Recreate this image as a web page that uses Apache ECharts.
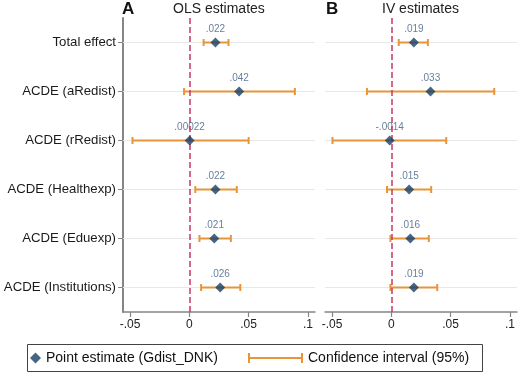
<!DOCTYPE html>
<html>
<head>
<meta charset="utf-8">
<script src="https://cdn.jsdelivr.net/npm/echarts@6/dist/echarts.min.js"></script>
<style>
  html, body { margin: 0; padding: 0; background: #fff; }
  #chart { width: 520px; height: 373px; }
</style>
</head>
<body>
<div id="chart"></div>
<script>
const categories = ["Total effect", "ACDE (aRedist)", "ACDE (rRedist)", "ACDE (Healthexp)", "ACDE (Eduexp)", "ACDE (Institutions)"];
const olsPoint = [0.022, 0.042, 0.00022, 0.022, 0.021, 0.026];
const olsLow = [0.012, -0.0045, -0.048, 0.005, 0.0085, 0.0099];
const olsHigh = [0.033, 0.089, 0.050, 0.040, 0.035, 0.043];
const olsLabels = [".022", ".042", ".00022", ".022", ".021", ".026"];
const ivPoint = [0.019, 0.033, -0.0014, 0.015, 0.016, 0.019];
const ivLow = [0.0062, -0.0206, -0.0497, -0.0037, -0.0008, -0.0008];
const ivHigh = [0.0308, 0.0868, 0.0463, 0.0336, 0.0316, 0.0387];
const ivLabels = [".019", ".033", "-.0014", ".015", ".016", ".019"];
const xTicks = [-0.05, 0, 0.05, 0.1];
const xTickLabels = ["-.05", "0", ".05", ".1"];

const navy = "#163f66";
const orange = "#e8953a";
const axisGray = "#858585";
const font = "Liberation Sans, Arial, sans-serif";
const pointName = "Point estimate (Gdist_DNK)";
const ciName = "Confidence interval (95%)";

const chart = echarts.init(document.getElementById("chart"), null, { renderer: "canvas" });
const tickText = v => { const i = xTicks.findIndex(t => Math.abs(t - v) < 1e-9); return i < 0 ? "" : xTickLabels[i]; };

function gridRow(params, api) {
  const cs = params.coordSys;
  const y = api.coord([0, api.value(0)])[1];
  return { type: "line", shape: { x1: cs.x, y1: y, x2: cs.x + cs.width, y2: y }, style: { stroke: "#e8e8e8", lineWidth: 1 } };
}

function ciBar(params, api) {
  const a = api.coord([api.value(0), api.value(2)]);
  const b = api.coord([api.value(1), api.value(2)]);
  const cap = 3.5;
  const st = { stroke: orange, lineWidth: 2 };
  return {
    type: "group",
    children: [
      { type: "line", shape: { x1: a[0], y1: a[1], x2: b[0], y2: b[1] }, style: st },
      { type: "line", shape: { x1: a[0], y1: a[1] - cap, x2: a[0], y2: a[1] + cap }, style: st },
      { type: "line", shape: { x1: b[0], y1: b[1] - cap, x2: b[0], y2: b[1] + cap }, style: st },
    ],
  };
}

function panelSeries(idx, point, low, high, labels) {
  return [
    {
      type: "custom",
      xAxisIndex: idx,
      yAxisIndex: idx,
      z: 1,
      silent: true,
      renderItem: gridRow,
      data: categories.map((_, i) => [i]),
      encode: { y: 0 },
      markLine: {
        silent: true,
        symbol: "none",
        label: { show: false },
        lineStyle: { color: "#c8375f", type: [6, 3], width: 1.5 },
        data: [{ xAxis: 0 }],
      },
    },
    {
      name: ciName,
      type: "custom",
      xAxisIndex: idx,
      yAxisIndex: idx,
      z: 3,
      itemStyle: { color: orange },
      renderItem: ciBar,
      data: categories.map((_, i) => [low[i], high[i], i]),
      encode: { x: [0, 1], y: 2 },
    },
    {
      name: pointName,
      type: "scatter",
      xAxisIndex: idx,
      yAxisIndex: idx,
      z: 10,
      symbol: "diamond",
      symbolSize: 10,
      itemStyle: { color: navy },
      label: {
        show: true,
        position: "top",
        distance: 3,
        fontFamily: font,
        fontSize: 10,
        color: "#3f5f82",
        formatter: p => labels[p.dataIndex],
      },
      data: categories.map((_, i) => [point[i], i]),
    },
  ];
}

function xAxisFor(idx) {
  return {
    type: "value",
    gridIndex: idx,
    min: -0.056,
    max: 0.106,
    axisLine: { show: true, onZero: false, lineStyle: { color: axisGray, width: 1.5 } },
    axisTick: { show: true, customValues: xTicks, length: 5, lineStyle: { color: axisGray, width: 1.2 } },
    axisLabel: { customValues: xTicks, formatter: tickText, fontFamily: font, fontSize: 12, color: "#222", margin: 7 },
    splitLine: { show: false },
  };
}

chart.setOption({
  animation: false,
  backgroundColor: "#fff",
  title: [
    { text: "A", left: 122, top: 1, padding: 0, textStyle: { fontFamily: font, fontSize: 17, fontWeight: "bold", color: "#111" } },
    { text: "OLS estimates", left: 173, top: 2, padding: 0, textStyle: { fontFamily: font, fontSize: 14, fontWeight: "normal", color: "#222" } },
    { text: "B", left: 326, top: 1, padding: 0, textStyle: { fontFamily: font, fontSize: 17, fontWeight: "bold", color: "#111" } },
    { text: "IV estimates", left: 382, top: 2, padding: 0, textStyle: { fontFamily: font, fontSize: 14, fontWeight: "normal", color: "#222" } },
  ],
  grid: [
    { left: 123, top: 18, width: 192, height: 294, outerBoundsMode: "none" },
    { left: 325, top: 18, width: 192, height: 294, outerBoundsMode: "none" },
  ],
  xAxis: [xAxisFor(0), xAxisFor(1)],
  yAxis: [
    {
      type: "category",
      gridIndex: 0,
      data: categories,
      inverse: true,
      axisLine: { show: true, onZero: false, lineStyle: { color: axisGray, width: 2 } },
      axisTick: { show: true, alignWithLabel: true, length: 5, lineStyle: { color: axisGray } },
      axisLabel: { fontFamily: font, fontSize: 13.2, color: "#1a1a1a", margin: 7 },
      splitLine: { show: false },
    },
    {
      type: "category",
      gridIndex: 1,
      data: categories,
      inverse: true,
      axisLine: { show: false, onZero: false },
      axisTick: { show: false },
      axisLabel: { show: false },
      splitLine: { show: false },
    },
  ],
  graphic: [
    { type: "rect", z: 0, shape: { x: 27.5, y: 344.5, width: 455, height: 27 }, style: { fill: "#fff", stroke: "#444", lineWidth: 1 } },
  ],
  legend: [
    {
      left: 30, top: 351, padding: 0,
      itemWidth: 11, itemHeight: 11, itemGap: 5,
      selectedMode: false,
      textStyle: { fontFamily: font, fontSize: 14, color: "#111" },
      data: [{ name: pointName, icon: "diamond" }],
    },
    {
      left: 248, top: 351, padding: 0,
      itemWidth: 55, itemHeight: 10, itemGap: 5,
      selectedMode: false,
      textStyle: { fontFamily: font, fontSize: 14, color: "#111" },
      data: [{ name: ciName, icon: "path://M0,0h2v10h-2z M0,4.1h55v1.8h-55z M53,0h2v10h-2z", itemStyle: { color: orange } }],
    },
  ],
  series: [
    ...panelSeries(0, olsPoint, olsLow, olsHigh, olsLabels),
    ...panelSeries(1, ivPoint, ivLow, ivHigh, ivLabels),
  ],
});
</script>
</body>
</html>
